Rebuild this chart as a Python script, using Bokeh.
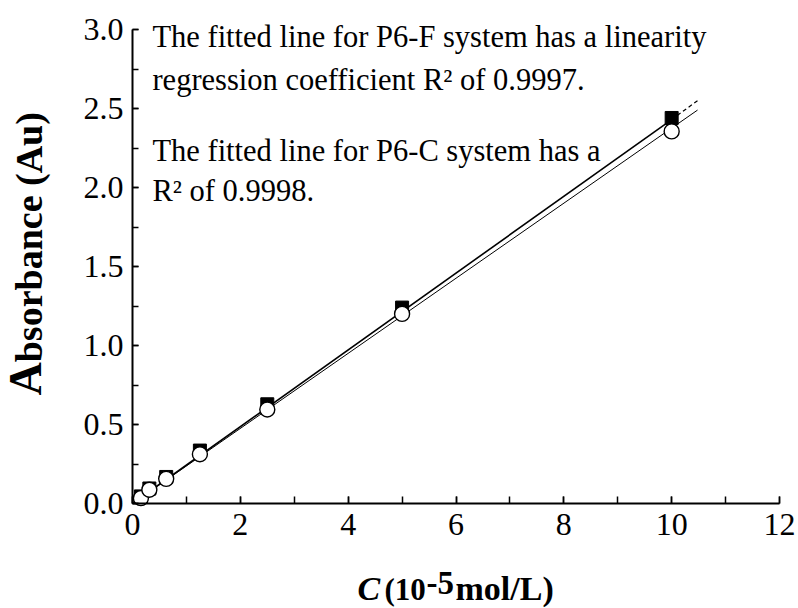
import math
from bokeh.plotting import figure
from bokeh.models import Label, SingleIntervalTicker, NumeralTickFormatter, Range1d
from bokeh.embed import file_html
from bokeh.resources import INLINE

# Data
conc = [0.156, 0.3125, 0.625, 1.25, 2.5, 5.0, 10.0]
abs_F = [0.045, 0.095, 0.168, 0.335, 0.628, 1.24, 2.44]
abs_C = [0.034, 0.087, 0.156, 0.312, 0.595, 1.20, 2.355]

# fitted lines (end points)
fitF_x_solid = [0.0, 10.0]
fitF_y_solid = [0.0, 2.43]
fitF_x_dash = [10.0, 10.48]
fitF_y_dash = [2.43, 2.55]
fitC_x = [0.0, 10.48]
fitC_y = [0.0, 2.49]

x_bounds = (0, 12)
y_bounds = (0, 3.0)

SERIF = "Liberation Serif"

W, H = 798, 608
# frame covers the whole canvas; axes are pinned at data 0
px_per_x = (779 - 132) / 12.0
px_per_y = (503 - 29) / 3.0
x_lo = -132 / px_per_x
x_hi = 12 + (W - 779) / px_per_x
y_hi = 3.0 + 29 / px_per_y
y_lo = -(H - 503) / px_per_y


def sx(px):
    return (px - 132) / px_per_x


def sy(py):
    return (503 - py) / px_per_y


p = figure(width=W, height=H, output_backend="svg", toolbar_location=None,
           x_range=Range1d(x_lo, x_hi), y_range=Range1d(y_lo, y_hi))
p.min_border = 0
p.min_border_left = 0
p.min_border_right = 0
p.min_border_top = 0
p.min_border_bottom = 0
p.outline_line_color = None
p.xgrid.grid_line_color = None
p.ygrid.grid_line_color = None
p.background_fill_color = "white"
p.border_fill_color = "white"

xa = p.xaxis[0]
ya = p.yaxis[0]
xa.fixed_location = 0
ya.fixed_location = 0
xa.bounds = x_bounds
ya.bounds = y_bounds

for ax in (xa, ya):
    ax.axis_line_width = 2
    ax.axis_line_color = "black"
    ax.major_tick_in = 7
    ax.major_tick_out = 0
    ax.minor_tick_in = 7
    ax.minor_tick_out = 0
    ax.major_tick_line_width = 1.5
    ax.minor_tick_line_width = 1.5
    ax.major_label_text_font = SERIF
    ax.major_label_text_font_size = "32px"
    ax.major_label_text_color = "black"
    ax.axis_label = None

ya.minor_tick_in = 6
ya.major_tick_in = 6
xa.ticker = SingleIntervalTicker(interval=2, num_minor_ticks=2)
ya.ticker = SingleIntervalTicker(interval=0.5, num_minor_ticks=2)
ya.formatter = NumeralTickFormatter(format="0.0")
xa.major_label_standoff = 10
ya.major_label_standoff = 9

# fitted lines
p.line(fitC_x, fitC_y, line_color="black", line_width=1)
p.line(fitF_x_solid, fitF_y_solid, line_color="black", line_width=1.6)
p.line(fitF_x_dash, fitF_y_dash, line_color="black", line_width=1.2, line_dash="4 3")

# markers
p.scatter(conc, abs_F, marker="square", size=13, fill_color="black", line_color="black")
p.scatter(conc, abs_C, marker="circle", size=15, fill_color="white", line_color="black", line_width=1.4)

# annotation texts
ann = [
    ("The fitted line for P6-F system has a linearity", 2.955),
    ("regression coefficient R\u00b2 of 0.9997.", 2.68),
    ("The fitted line for P6-C system has a", 2.23),
    ("R\u00b2 of 0.9998.", 1.975),
]
for t, yy in ann:
    p.add_layout(Label(x=0.37, y=yy, text=t, text_font=SERIF, text_font_size="30.5px",
                       text_baseline="middle", text_align="left", text_color="black"))

# y axis label (big A + rest), rotated, common baseline at x ~ 41 px
p.add_layout(Label(x=sx(41 - 0.3375 * 46), y=sy(395), text="A", angle=math.pi / 2, text_font=SERIF,
                   text_font_style="bold", text_font_size="46px", text_baseline="middle",
                   text_align="left", text_color="black"))
p.add_layout(Label(x=sx(41 - 0.3375 * 38), y=sy(395 - 0.722 * 46), text="bsorbance (Au)",
                   angle=math.pi / 2, text_font=SERIF,
                   text_font_style="bold", text_font_size="38px", text_baseline="middle",
                   text_align="left", text_color="black"))

# x axis label pieces
ymid = 588
p.add_layout(Label(x=sx(357), y=sy(ymid), text="C", text_font=SERIF,
                   text_font_style="bold italic", text_font_size="34px",
                   text_baseline="middle", text_align="left", text_color="black"))
p.add_layout(Label(x=sx(384), y=sy(ymid + 1), text="(10", text_font=SERIF,
                   text_font_style="bold", text_font_size="31px",
                   text_baseline="middle", text_align="left", text_color="black"))
p.add_layout(Label(x=sx(426), y=sy(ymid - 6), text="-5", text_font=SERIF,
                   text_font_style="bold", text_font_size="33px",
                   text_baseline="middle", text_align="left", text_color="black"))
p.add_layout(Label(x=sx(455), y=sy(ymid), text="mol/L)", text_font=SERIF,
                   text_font_style="bold", text_font_size="34px",
                   text_baseline="middle", text_align="left", text_color="black"))

open("out.html", "w").write(file_html(p, INLINE))
